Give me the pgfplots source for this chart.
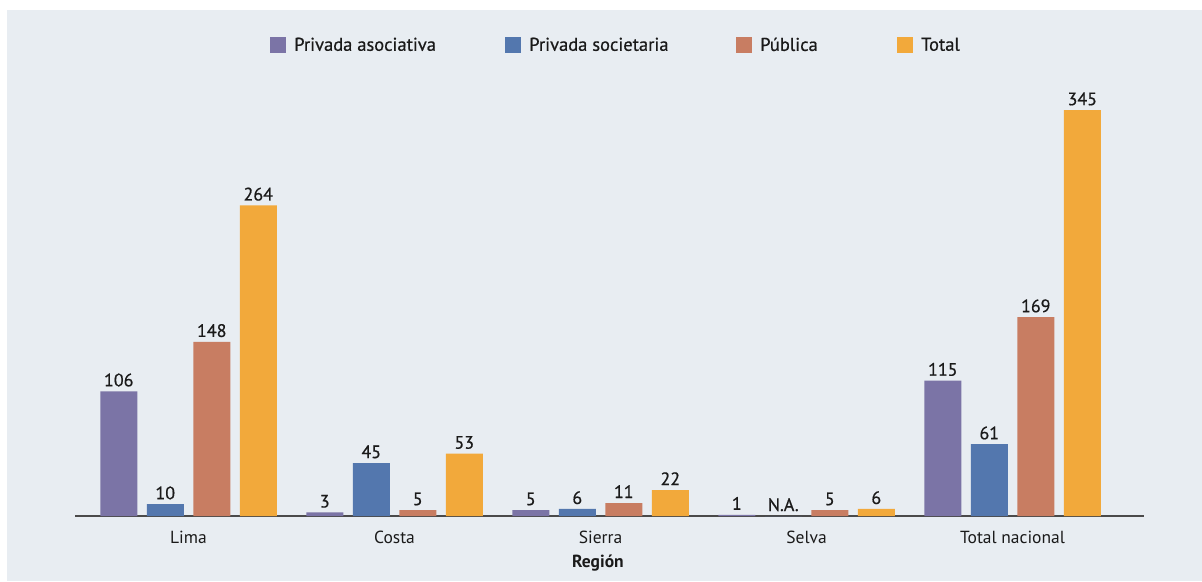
\documentclass[border=0pt]{standalone}
\usepackage{pgfplots}
\pgfplotsset{compat=1.18}
\usepackage{fontspec}
\setmainfont{PT Sans}
\newfontfamily\medfont[FakeBold=0.6]{PT Sans}
\definecolor{bg}{HTML}{E8EDF2}
\definecolor{cpa}{HTML}{7B74A6}
\definecolor{cps}{HTML}{5377AE}
\definecolor{cpu}{HTML}{C87D62}
\definecolor{ctot}{HTML}{F2A93B}
\definecolor{txt}{HTML}{1A1A1A}
\definecolor{axl}{HTML}{4A4A4A}
\begin{document}
\begin{tikzpicture}[x=1pt,y=1pt]
\fill[white] (0,0) rectangle (1202,581);
\fill[bg] (7,0) rectangle (1202,571);
\useasboundingbox (0,0) rectangle (1202,581);
\begin{axis}[
  at={(75pt,65pt)}, anchor=south west,
  scale only axis, width=1069pt, height=447pt,
  xmin=-0.551, xmax=4.638, ymin=0, ymax=380,
  axis x line=bottom, axis y line=none,
  x axis line style={-, draw=axl, line width=2pt},
  xtick={0,1,2,3,4},
  xticklabels={Lima,Costa,Sierra,Selva,Total nacional},
  major tick length=0pt,
  xticklabel style={anchor=base, yshift=-27pt, inner sep=0pt, text=txt, font=\fontsize{17.5}{20}\selectfont},
  ytick=\empty,
  xlabel={\bfseries Región},
  xlabel style={at={(axis description cs:0.4892,-0.1163)}, anchor=base, inner sep=0pt, text=txt, font=\fontsize{17.5}{20}\selectfont},
  ybar=9.5pt, bar width=37pt,
  point meta=explicit symbolic,
  nodes near coords,
  nodes near coords style={text=txt, font=\medfont\fontsize{18}{20}\selectfont, inner sep=0pt, yshift=5pt, anchor=base},
  legend columns=4,
  legend cell align=left,
  legend image code/.code={\fill[#1,draw=none] (0pt,-8pt) rectangle (16pt,8pt);},
  legend style={at={(0.1824,1.0537)}, anchor=west, draw=none, fill=none, inner sep=0pt,
     font=\medfont\fontsize{18.5}{20}\selectfont, text=txt,
     nodes={inner sep=0pt},
     /tikz/every odd column/.append style={column sep=8pt}},
]
\addplot[fill=cpa, draw=none] coordinates {(0,106)[106] (1,3)[3] (2,5)[5] (3,1)[1] (4,115)[115]};
\addplot[fill=cps, draw=none] coordinates {(0,10)[10] (1,45)[45] (2,6)[6] (3,0)[N.A.] (4,61)[61]};
\addplot[fill=cpu, draw=none] coordinates {(0,148)[148] (1,5)[5] (2,11)[11] (3,5)[5] (4,169)[169]};
\addplot[fill=ctot, draw=none] coordinates {(0,264)[264] (1,53)[53] (2,22)[22] (3,6)[6] (4,345)[345]};
\legend{\makebox[211pt][l]{Privada asociativa},\makebox[207pt][l]{Privada societaria},\makebox[137pt][l]{Pública},Total}
\end{axis}
\end{tikzpicture}
\end{document}
